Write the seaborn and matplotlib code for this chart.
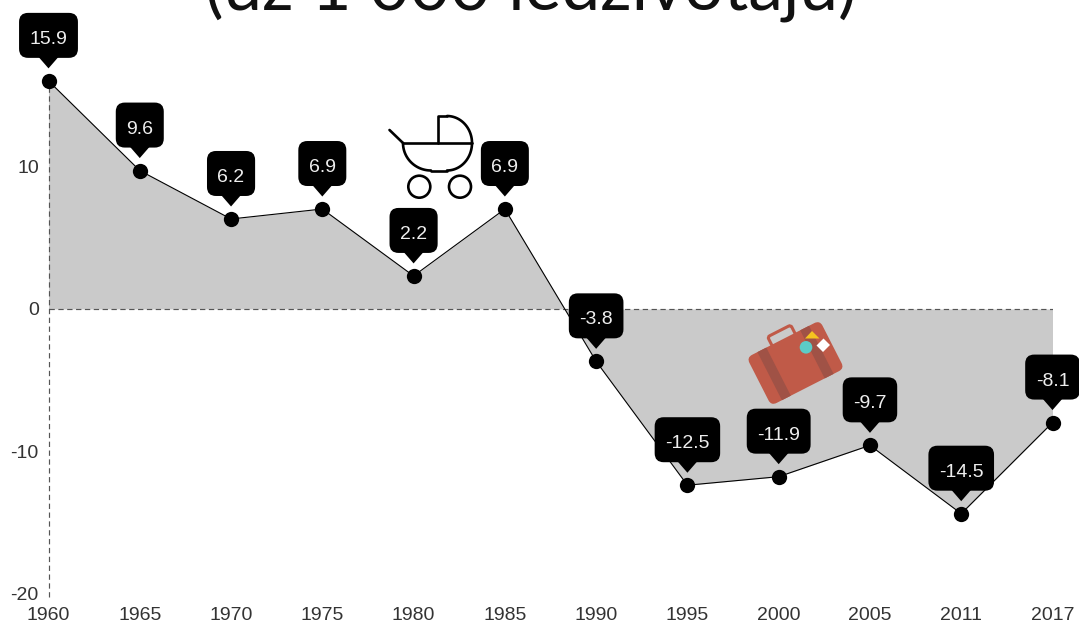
import matplotlib
matplotlib.use("Agg")
import matplotlib.pyplot as plt
import matplotlib.patches as patches
import matplotlib.transforms as transforms
import numpy as np
import pandas as pd
import seaborn as sns

years = ["1960", "1965", "1970", "1975", "1980", "1985", "1990", "1995", "2000", "2005", "2011", "2017"]
balance = [15.9, 9.6, 6.2, 6.9, 2.2, 6.9, -3.8, -12.5, -11.9, -9.7, -14.5, -8.1]
y_ticks = [-20, -10, 0, 10]
title_line = "(uz 1 000 iedzīvotāju)"

FILL = "#cacaca"
TEXT = "#333333"
DASH = "#555555"
SUITCASE = "#c05a48"
STRAP = "#a05246"

sns.set_theme(style="white")
plt.rcParams["font.family"] = ["Liberation Sans", "DejaVu Sans"]
plt.rcParams["axes.unicode_minus"] = False

W, H = 1079, 625
fig = plt.figure(figsize=(W / 100, H / 100), dpi=100)

# plot area, in pixels of the reference
left, right, top, bottom = 48.5, 1052.5, 22.5, 592
ax = fig.add_axes([left / W, 1 - bottom / H, (right - left) / W, (bottom - top) / H])

# the zero line sits a little under the data's own zero in the reference
baseline = -0.12

df = pd.DataFrame({"year": years, "balance": balance})
ax.fill_between(df["year"], df["balance"], baseline, color=FILL, lw=0, zorder=1)
sns.lineplot(data=df, x="year", y="balance", ax=ax, color="black", lw=0.8, marker="o",
             markersize=11, markeredgewidth=0, clip_on=False, zorder=3)
ax.axhline(baseline, color=DASH, lw=0.85, ls=(0, (4.5, 3)), zorder=2)
ax.plot([years[0], years[0]], [-20.35, balance[0]], color=DASH, lw=0.85, ls=(0, (4.5, 3)),
        zorder=2, clip_on=False)

ax.set_xlim(0, len(years) - 1)
ax.set_ylim(-20, 20)
ax.set_xlabel("")
ax.set_ylabel("")
ax.set_yticks(y_ticks)
ax.tick_params(axis="y", length=0, pad=7, labelsize=14, labelcolor=TEXT)
ax.tick_params(axis="x", length=0, pad=10.5, labelsize=14, labelcolor=TEXT)
nudge = transforms.ScaledTranslation(0, -1.5 / 100, fig.dpi_scale_trans)
for label in ax.get_yticklabels():
    label.set_transform(label.get_transform() + nudge)
sns.despine(ax=ax, left=True, bottom=True)
ax.patch.set_alpha(0)

# callouts above each point, sized from the text they hold
renderer = fig.canvas.get_renderer()
pixels = transforms.IdentityTransform()
for i, (year, value) in enumerate(zip(years, balance)):
    px, py = ax.transData.transform((i, value))
    label = ax.annotate(f"{value}", xy=(px, py + 41.5), xycoords=pixels, ha="center", va="center",
                        fontsize=14, color="#eeeeee", zorder=7, annotation_clip=False)
    w = label.get_window_extent(renderer).width + 21
    ax.add_patch(patches.FancyBboxPatch((px - w / 2, py + 23), w, 45, transform=pixels,
                                        boxstyle="round,pad=0,rounding_size=9", fc="black", ec="none",
                                        clip_on=False, zorder=6))
    ax.add_patch(patches.Polygon([(px - 10, py + 24), (px + 10, py + 24), (px, py + 12.5)], transform=pixels,
                                 fc="black", ec="none", clip_on=False, zorder=6))

# overlay in reference pixels for the title and icons
over = fig.add_axes([0, 0, 1, 1], zorder=10)
over.set_xlim(0, W)
over.set_ylim(H, 0)
over.axis("off")

over.text(531, 9, title_line, ha="center", va="baseline", fontsize=50, color="#111111",
          family=["Lato", "DejaVu Sans"])

# pram
pram = dict(color="black", lw=1.9, solid_capstyle="round")
over.plot([389.5, 403], [130, 143], **pram)
over.plot([403, 472], [143, 143], **pram)
over.plot([438, 438, 447], [143, 116, 116], **pram)
a = np.linspace(-np.pi / 2, 0, 30)
over.plot(447 + 25 * np.cos(a), 143 + 27 * np.sin(a), **pram)
a = np.linspace(0, np.pi / 2, 30)
over.plot(447 + 25 * np.cos(a), 143 + 27.5 * np.sin(a), **pram)
a = np.linspace(np.pi / 2, np.pi, 30)
over.plot(431 + 28 * np.cos(a), 143 + 27.5 * np.sin(a), **pram)
over.plot([431, 447], [170.5, 170.5], **pram)
for cx in (419.3, 460):
    over.add_patch(patches.Circle((cx, 186.7), 11, fc="white", ec="black", lw=1.9))

# suitcase, drawn level and then tilted
cx, cy = 795.5, 363
tilt = transforms.Affine2D().rotate_deg(-27).translate(cx, cy) + over.transData
over.add_patch(patches.FancyBboxPatch((-13, -36), 26, 12, boxstyle="round,pad=0,rounding_size=2.5",
                                      fc="none", ec=SUITCASE, lw=2.2, transform=tilt))
over.add_patch(patches.FancyBboxPatch((-41, -27), 82, 54, boxstyle="round,pad=0,rounding_size=6",
                                      fc=SUITCASE, ec="none", transform=tilt))
for sx in (-24, 24):
    over.add_patch(patches.Rectangle((sx - 5, -27), 10, 54, fc=STRAP, ec="none", transform=tilt))
over.add_patch(patches.Polygon([(805, 338.5), (812, 331), (819.5, 338.5)], fc="#f5c320", ec="none"))
over.add_patch(patches.Circle((806, 347.3), 6.3, fc="#5ccbc6", ec="none"))
over.add_patch(patches.Polygon([(823.5, 338.5), (830, 345), (823, 352), (816.5, 345.5)], fc="white", ec="none"))

fig.savefig("out.png", dpi=100)
